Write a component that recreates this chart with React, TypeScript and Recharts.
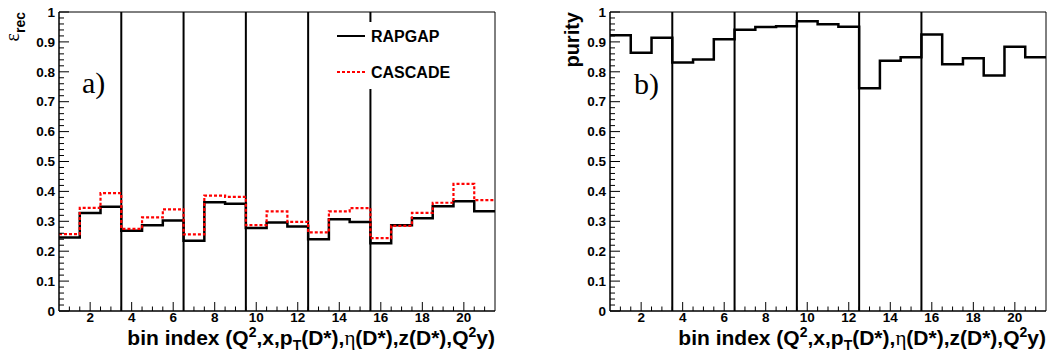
import { LineChart, Line, XAxis, YAxis, ReferenceLine, ReferenceArea, Legend } from 'recharts'

// bin index 1..21 (Q2, x, pT(D*), eta(D*), z(D*), Q2y blocks)
const binIndex = [1, 2, 3, 4, 5, 6, 7, 8, 9, 10, 11, 12, 13, 14, 15, 16, 17, 18, 19, 20, 21]
const rapgap = [0.246, 0.328, 0.349, 0.268, 0.287, 0.303, 0.235, 0.364, 0.359, 0.278, 0.296, 0.283, 0.24, 0.307, 0.298, 0.227, 0.287, 0.31, 0.35, 0.367, 0.334]
const cascade = [0.257, 0.345, 0.394, 0.275, 0.313, 0.34, 0.256, 0.386, 0.382, 0.287, 0.333, 0.298, 0.263, 0.333, 0.344, 0.244, 0.285, 0.328, 0.362, 0.425, 0.371]
const purity = [0.922, 0.864, 0.914, 0.831, 0.841, 0.909, 0.941, 0.95, 0.952, 0.969, 0.959, 0.951, 0.745, 0.837, 0.849, 0.925, 0.825, 0.845, 0.788, 0.884, 0.849]
const separators = [3.5, 6.5, 9.5, 12.5, 15.5]
const xTickLabels = [2, 4, 6, 8, 10, 12, 14, 16, 18, 20]
const yTickLabels = ['0', '0.1', '0.2', '0.3', '0.4', '0.5', '0.6', '0.7', '0.8', '0.9', '1']

const SANS = '"Liberation Sans", Arial, sans-serif'
const SERIF = '"Liberation Serif", "Times New Roman", serif'

// minor ticks every 0.5 on x, every 0.02 on y
const xTicks = Array.from({ length: 41 }, (_, k) => 1 + k * 0.5)
const yTicks = Array.from({ length: 51 }, (_, k) => k / 50)

// histogram edges -> step points
const edges = [...binIndex.map((b) => b - 0.5), binIndex[binIndex.length - 1] + 0.5]
const last = binIndex.length - 1
const effData = edges.map((x, i) => ({ x, rapgap: rapgap[Math.min(i, last)], cascade: cascade[Math.min(i, last)] }))
const purData = edges.map((x, i) => ({ x, purity: purity[Math.min(i, last)] }))

const PLOT_TOP = 12
const PLOT_BOTTOM = 311

function XTick(props: any) {
  const { x, payload } = props
  const v = payload.value
  const major = xTickLabels.includes(v)
  const len = major ? 9 : 4.5
  return (
    <g>
      <line x1={x} x2={x} y1={PLOT_BOTTOM} y2={PLOT_BOTTOM - len} stroke="#000" />
      {major && (
        <text x={x} y={322} textAnchor="middle" fontFamily={SANS} fontWeight="bold" fontSize={13.5} fill="#000">
          {v}
        </text>
      )}
    </g>
  )
}

function makeYTick(left: number) {
  return (props: any) => {
    const { y, payload } = props
    const v = payload.value
    const idx = Math.round(v * 10)
    const major = Math.abs(v * 10 - idx) < 1e-6
    const len = major ? 10 : 5
    return (
      <g>
        <line x1={left} x2={left + len} y1={y} y2={y} stroke="#000" />
        {major && (
          <text x={left - 4} y={y} dy="0.35em" textAnchor="end" fontFamily={SANS} fontWeight="bold" fontSize={13.5} fill="#000">
            {yTickLabels[idx]}
          </text>
        )}
      </g>
    )
  }
}

function XTitle({ right }: { right: number }) {
  return (
    <text x={right} y={345} textAnchor="end" fontFamily={SANS} fontWeight="bold" fontSize={21} fill="#000">
      <tspan>bin index (Q</tspan>
      <tspan dy={-8} fontSize={14}>2</tspan>
      <tspan dy={8}>,x,p</tspan>
      <tspan dy={5} fontSize={14}>T</tspan>
      <tspan dy={-5}>(D*),</tspan>
      <tspan fontFamily={SERIF} fontWeight="normal">η</tspan>
      <tspan fontFamily={SANS}>(D*),z(D*),Q</tspan>
      <tspan dy={-8} fontSize={14}>2</tspan>
      <tspan dy={8}>y)</tspan>
    </text>
  )
}

function EffTitle() {
  return (
    <text x={19} y={PLOT_TOP} transform={`rotate(-90, 19, ${PLOT_TOP})`} textAnchor="end" fill="#000">
      <tspan fontFamily={SERIF} fontSize={20}>ε</tspan>
      <tspan dy={6} fontFamily={SANS} fontWeight="bold" fontSize={14}>rec</tspan>
    </text>
  )
}

function PurTitle() {
  return (
    <text x={50} y={PLOT_TOP} transform={`rotate(-90, 50, ${PLOT_TOP})`} textAnchor="end" fontFamily={SANS} fontWeight="bold" fontSize={20} fill="#000">
      purity
    </text>
  )
}

function EffLegend() {
  return (
    <svg width={128} height={67}>
      <line x1={7} x2={35} y1={14} y2={14} stroke="#000" strokeWidth={2} />
      <text x={41} y={14} dy="0.35em" fontFamily={SANS} fontWeight="bold" fontSize={16} fill="#000">RAPGAP</text>
      <line x1={7} x2={35} y1={50} y2={50} stroke="#ff0000" strokeWidth={2} strokeDasharray="3 2" />
      <text x={41} y={50} dy="0.35em" fontFamily={SANS} fontWeight="bold" fontSize={16} fill="#000">CASCADE</text>
    </svg>
  )
}

export default function App() {
  return (
    <div style={{ position: 'relative', width: 1058, height: 354, background: '#fff' }}>
      <style>{'body{margin:0}'}</style>
      <div style={{ display: 'flex' }}>
        <LineChart width={529} height={354} data={effData} margin={{ top: PLOT_TOP, right: 34, bottom: 0, left: 0 }}>
          <XAxis dataKey="x" type="number" domain={[0.5, 21.5]} ticks={xTicks} interval={0} height={43}
            tickLine={false} axisLine={{ stroke: '#000' }} tick={XTick} label={<XTitle right={495} />} />
          <YAxis type="number" domain={[0, 1]} ticks={yTicks} interval={0} width={59}
            tickLine={false} axisLine={{ stroke: '#000' }} tick={makeYTick(59)} label={<EffTitle />} />
          <ReferenceArea x1={0.5} x2={21.5} y1={0} y2={1} fill="none" stroke="#000" strokeWidth={1} />
          {separators.map((s) => (
            <ReferenceLine key={s} x={s} stroke="#000" strokeWidth={2} />
          ))}
          <Line type="stepAfter" dataKey="rapgap" name="RAPGAP" stroke="#000" strokeWidth={2.5} dot={false} isAnimationActive={false} />
          <Line type="stepAfter" dataKey="cascade" name="CASCADE" stroke="#ff0000" strokeWidth={2.2} strokeDasharray="3 2" dot={false} isAnimationActive={false} />
          <Legend layout="horizontal" verticalAlign="middle" align="center" content={<EffLegend />}
            wrapperStyle={{ left: 330, top: 22, width: 128, height: 67, background: '#fff' }} />
        </LineChart>
        <LineChart width={529} height={354} data={purData} margin={{ top: PLOT_TOP, right: 12, bottom: 0, left: 0 }}>
          <XAxis dataKey="x" type="number" domain={[0.5, 21.5]} ticks={xTicks} interval={0} height={43}
            tickLine={false} axisLine={{ stroke: '#000' }} tick={XTick} label={<XTitle right={517} />} />
          <YAxis type="number" domain={[0, 1]} ticks={yTicks} interval={0} width={81}
            tickLine={false} axisLine={{ stroke: '#000' }} tick={makeYTick(81)} label={<PurTitle />} />
          <ReferenceArea x1={0.5} x2={21.5} y1={0} y2={1} fill="none" stroke="#000" strokeWidth={1} />
          {separators.map((s) => (
            <ReferenceLine key={s} x={s} stroke="#000" strokeWidth={2} />
          ))}
          <Line type="stepAfter" dataKey="purity" name="purity" stroke="#000" strokeWidth={2.5} dot={false} isAnimationActive={false} />
        </LineChart>
      </div>
      <svg width={1058} height={354} style={{ position: 'absolute', left: 0, top: 0, pointerEvents: 'none' }}>
        <text x={82} y={93} fontFamily={SERIF} fontSize={30} fill="#000">a)</text>
        <text x={634} y={94} fontFamily={SERIF} fontSize={30} fill="#000">b)</text>
      </svg>
    </div>
  )
}
